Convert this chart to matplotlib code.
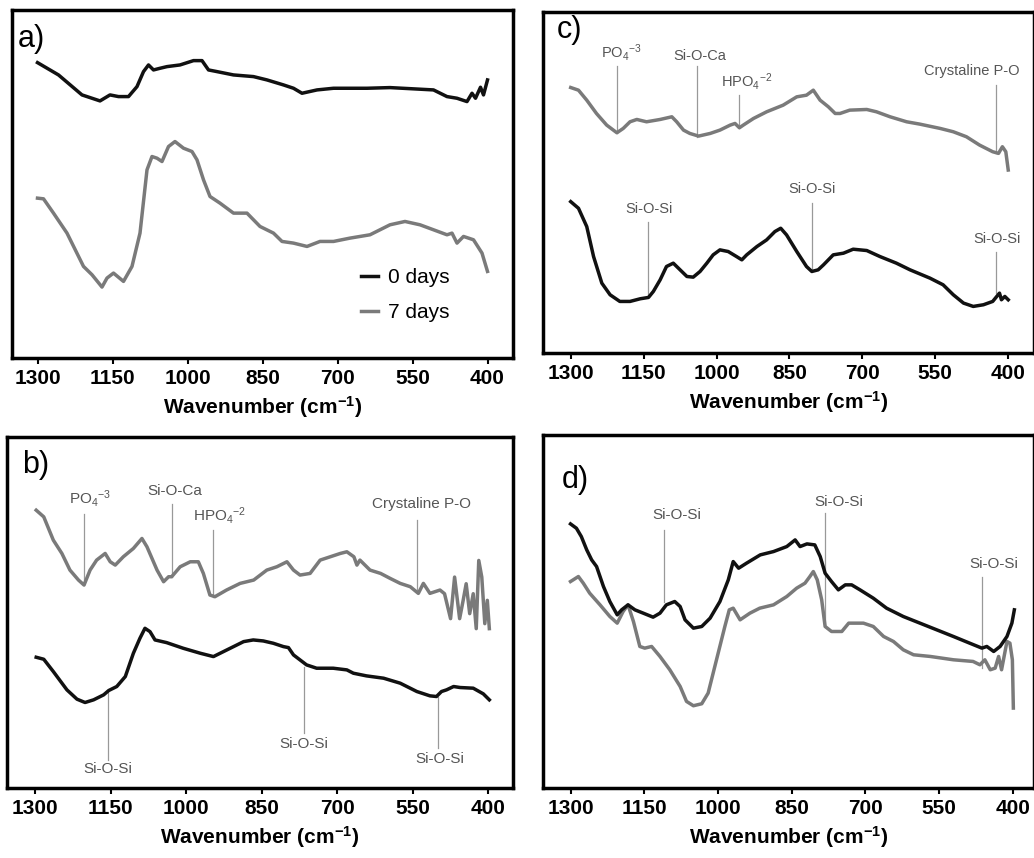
import matplotlib
matplotlib.use("Agg")
import matplotlib.pyplot as plt

plt.rcParams["font.family"] = ["Liberation Sans", "DejaVu Sans"]
plt.rcParams["mathtext.fontset"] = "custom"
plt.rcParams["mathtext.rm"] = "Liberation Sans"
plt.rcParams["mathtext.it"] = "Liberation Sans:italic"
plt.rcParams["mathtext.bf"] = "Liberation Sans:bold"

BLACK = "#111111"
GRAY = "#7a7a7a"
TICKS = [1300, 1150, 1000, 850, 700, 550, 400]

# ---- panel a: 0 days / 7 days ----
a0_wn = [1300, 1258, 1211, 1175, 1155, 1138, 1118, 1101, 1088, 1078, 1068, 1055, 1041, 1015, 988, 971, 958,
         941, 908, 868, 841, 808, 788, 771, 741, 708, 641, 595, 508, 481, 461, 441, 431, 424, 414, 408, 400]
a0_y = [887, 850, 790, 772, 790, 785, 785, 815, 860, 880, 865, 870, 875, 880, 893, 893, 865,
        860, 850, 845, 835, 820, 810, 795, 805, 810, 810, 812, 805, 785, 780, 770, 795, 780, 813, 790, 835]
a7_wn = [1300, 1288, 1268, 1241, 1208, 1191, 1171, 1161, 1148, 1128, 1111, 1095, 1081, 1071, 1061, 1051, 1038,
         1025, 1008, 991, 981, 968, 955, 935, 908, 881, 855, 828, 811, 788, 761, 735, 708, 675, 635, 595, 565,
         535, 508, 481, 471, 461, 448, 428, 411, 400]
a7_y = [480, 478, 435, 375, 275, 250, 213, 240, 255, 230, 275, 375, 565, 605, 600, 590, 635,
        650, 630, 620, 595, 535, 485, 465, 435, 435, 395, 375, 350, 345, 335, 350, 350, 360, 370, 400, 410,
        400, 385, 370, 375, 345, 365, 355, 315, 260]

# ---- panel b ----
b7_wn = [1298, 1283, 1264, 1247, 1231, 1214, 1203, 1191, 1178, 1161, 1151, 1141, 1125, 1105, 1088, 1078, 1058,
         1045, 1035, 1029, 1012, 992, 976, 966, 953, 943, 920, 893, 866, 840, 820, 800, 787, 774, 754, 734, 714,
         694, 681, 667, 661, 655, 635, 614, 595, 575, 555, 539, 529, 516, 496,
         487, 475, 467, 457, 450, 444, 437, 430, 424, 419, 413, 407, 402, 398]
b7_y = [835, 815, 745, 705, 655, 625, 610, 655, 685, 705, 680, 670, 695, 720, 750, 725, 655,
        620, 635, 635, 665, 680, 680, 645, 580, 575, 595, 615, 625, 655, 665, 680, 655, 640, 645, 685, 695,
        705, 710, 695, 670, 685, 655, 645, 630, 615, 605, 585, 615, 585, 595,
        584, 509, 634, 509, 564, 614, 524, 584, 479, 684, 634, 494, 564, 479]
b0_wn = [1298, 1283, 1264, 1237, 1217, 1201, 1184, 1164, 1154, 1138, 1121, 1105, 1092, 1082, 1072, 1062, 1039,
         1006, 972, 946, 926, 906, 886, 867, 847, 827, 807, 797, 787, 774, 761, 741, 708, 681, 668, 642, 608,
         575, 542, 516, 503, 493, 483, 469, 456, 430, 410, 398]
b0_y = [393, 387, 350, 295, 267, 257, 265, 280, 293, 305, 335, 405, 450, 480, 470, 445, 437,
        420, 405, 395, 410, 425, 440, 445, 442, 435, 425, 422, 400, 385, 370, 360, 360, 355, 345, 337, 330,
        315, 290, 277, 275, 290, 295, 305, 302, 300, 283, 265]

# ---- panel c ----
c7_wn = [1300, 1284, 1267, 1247, 1226, 1205, 1192, 1178, 1164, 1144, 1116, 1092, 1082, 1068, 1055, 1037, 1013,
         993, 972, 962, 953, 945, 924, 897, 863, 835, 815, 801, 787, 770, 756, 746, 726, 691, 671, 643, 609,
         582, 540, 513, 486, 459, 432, 420, 412, 405, 400]
c7_y = [798, 790, 760, 720, 685, 662, 675, 695, 702, 695, 702, 710, 695, 670, 660, 652, 660,
        670, 685, 690, 677, 685, 705, 725, 745, 770, 775, 790, 760, 740, 720, 720, 730, 732, 725, 710, 695,
        688, 675, 665, 650, 625, 605, 600, 620, 605, 550]
c0_wn = [1300, 1284, 1267, 1253, 1236, 1219, 1199, 1178, 1157, 1140, 1130, 1116, 1103, 1089, 1075, 1061, 1048,
         1034, 1020, 1007, 993, 976, 959, 948, 938, 917, 897, 880, 868, 856, 835, 815, 804, 791, 780, 760, 739,
         719, 691, 664, 630, 602, 561, 534, 513, 492, 472, 451, 432, 418, 414, 407, 400]
c0_y = [455, 435, 380, 290, 210, 175, 155, 155, 163, 167, 185, 220, 260, 270, 250, 230, 228,
        245, 270, 295, 310, 305, 290, 280, 295, 320, 340, 365, 375, 355, 305, 260, 245, 250, 265, 295, 300,
        312, 308, 290, 270, 250, 225, 205, 175, 150, 140, 145, 155, 180, 160, 170, 160]

# ---- panel d ----
d0_wn = [1300, 1288, 1278, 1267, 1257, 1247, 1233, 1220, 1205, 1196, 1183, 1169, 1152, 1132, 1118, 1105, 1088,
         1077, 1067, 1050, 1033, 1016, 996, 979, 969, 958, 942, 914, 887, 860, 843, 833, 819, 803, 792, 782,
         769, 755, 741, 728, 711, 684, 657, 623, 589, 555, 521, 488, 463, 453, 439, 426, 412, 402, 397]
d0_y = [793, 780, 755, 715, 685, 665, 605, 560, 520, 535, 550, 535, 525, 513, 525, 550, 560,
        545, 505, 480, 485, 510, 560, 625, 680, 660, 675, 700, 710, 725, 745, 725, 733, 730, 695, 645,
        620, 595, 610, 610, 595, 570, 540, 515, 495, 475, 455, 435, 420, 425, 410, 425, 455, 495, 535]
d7_wn = [1300, 1284, 1274, 1261, 1240, 1220, 1205, 1193, 1183, 1172, 1159, 1149, 1135, 1118, 1098, 1077, 1064,
         1050, 1033, 1020, 1003, 986, 977, 969, 955, 935, 915, 887, 860, 840, 823, 813, 806, 798, 789, 782,
         769, 748, 734, 704, 684, 663, 643, 623, 602, 568, 521, 481, 467, 457, 446, 436, 429, 423, 412, 406,
         401, 399]
d7_y = [620, 635, 615, 585, 550, 515, 495, 530, 550, 500, 425, 420, 425, 395, 355, 305, 260,
        247, 253, 285, 385, 485, 535, 540, 505, 525, 540, 550, 575, 600, 615, 635, 650, 625, 565, 485,
        470, 470, 495, 495, 485, 455, 440, 415, 400, 395, 385, 380, 370, 385, 355, 360, 395, 355, 440, 435,
        385, 240]

PO4 = r"PO$_4$$^{-3}$"
HPO4 = r"HPO$_4$$^{-2}$"

# (label, text x, text y, valign, line x, line y0, line y1)
b_marks = [
    (PO4, 1191, 838, "bottom", 1203, 825, 610),
    ("Si-O-Ca", 1022, 873, "bottom", 1029, 855, 635),
    (HPO4, 933, 788, "bottom", 946, 775, 575),
    ("Crystaline P-O", 532, 833, "bottom", 541, 805, 590),
    ("Si-O-Si", 1156, 77, "top", 1156, 290, 85),
    ("Si-O-Si", 766, 152, "top", 767, 365, 165),
    ("Si-O-Si", 496, 107, "top", 499, 275, 120),
]
c_marks = [
    (PO4, 1195, 872, "bottom", 1205, 862, 662),
    ("Si-O-Ca", 1034, 873, "bottom", 1041, 862, 650),
    (HPO4, 939, 785, "bottom", 953, 777, 675),
    ("Crystaline P-O", 475, 828, "bottom", 425, 805, 600),
    ("Si-O-Si", 1139, 413, "bottom", 1140, 395, 175),
    ("Si-O-Si", 804, 473, "bottom", 804, 450, 250),
    ("Si-O-Si", 424, 323, "bottom", 425, 305, 180),
]
d_marks = [
    ("Si-O-Si", 1083, 798, "bottom", 1110, 775, 560),
    ("Si-O-Si", 755, 838, "bottom", 782, 825, 485),
    ("Si-O-Si", 438, 653, "bottom", 463, 635, 360),
]


def style_axes(ax, xlim, ylim, letter, lx, ly):
    ax.set_xlim(*xlim)
    ax.set_ylim(*ylim)
    ax.set_yticks([])
    ax.set_xticks(TICKS)
    ax.set_xticklabels([str(t) for t in TICKS], fontsize=15, fontweight="bold")
    ax.tick_params(axis="x", direction="out", length=4, width=1.5, pad=4)
    for s in ax.spines.values():
        s.set_linewidth(2.5)
    ax.set_xlabel(r"Wavenumber (cm$^{\mathbf{-1}}$)", fontsize=15, fontweight="bold", labelpad=4)
    ax.text(lx, ly, letter, transform=ax.transAxes, fontsize=22, va="baseline", ha="left")


def add_marks(ax, marks, size):
    for label, tx, ty, va, lx, y0, y1 in marks:
        ax.plot([lx, lx], [y0, y1], color="#999999", linewidth=0.9, zorder=1)
        ax.text(tx, ty, label, ha="center", va=va, fontsize=size, color="#555555")


fig = plt.figure(figsize=(10.34, 8.58), dpi=100)

ax_a = fig.add_axes([12 / 1034, 1 - 358 / 858, 501 / 1034, 348 / 858])
ax_c = fig.add_axes([543 / 1034, 1 - 353 / 858, 491 / 1034, 341 / 858])
ax_b = fig.add_axes([7 / 1034, 1 - 788 / 858, 506 / 1034, 351 / 858])
ax_d = fig.add_axes([543 / 1034, 1 - 788 / 858, 491 / 1034, 353 / 858])

LW = 2.5

# a
ax_a.plot(a0_wn, a0_y, color=BLACK, linewidth=LW, label="0 days")
ax_a.plot(a7_wn, a7_y, color=GRAY, linewidth=LW, label="7 days")
style_axes(ax_a, (1351, 349), (0, 1045), "a)", 0.012, 0.894)
ax_a.legend(loc="lower left", bbox_to_anchor=(0.66, 0.05), frameon=False, fontsize=15,
            handlelength=0.8, handletextpad=0.5, labelspacing=0.75)

# b
ax_b.plot(b7_wn, b7_y, color=GRAY, linewidth=LW)
ax_b.plot(b0_wn, b0_y, color=BLACK, linewidth=LW)
add_marks(ax_b, b_marks, 11)
style_axes(ax_b, (1356, 351), (0, 1055), "b)", 0.03, 0.897)

# c
ax_c.plot(c7_wn, c7_y, color=GRAY, linewidth=LW)
ax_c.plot(c0_wn, c0_y, color=BLACK, linewidth=LW)
add_marks(ax_c, c_marks, 10.5)
style_axes(ax_c, (1357, 347), (0, 1025), "c)", 0.028, 0.924)

# d
ax_d.plot(d7_wn, d7_y, color=GRAY, linewidth=LW)
ax_d.plot(d0_wn, d0_y, color=BLACK, linewidth=LW)
add_marks(ax_d, d_marks, 11)
style_axes(ax_d, (1356, 357), (0, 1060), "d)", 0.039, 0.85)

fig.savefig("out.png", dpi=100)
